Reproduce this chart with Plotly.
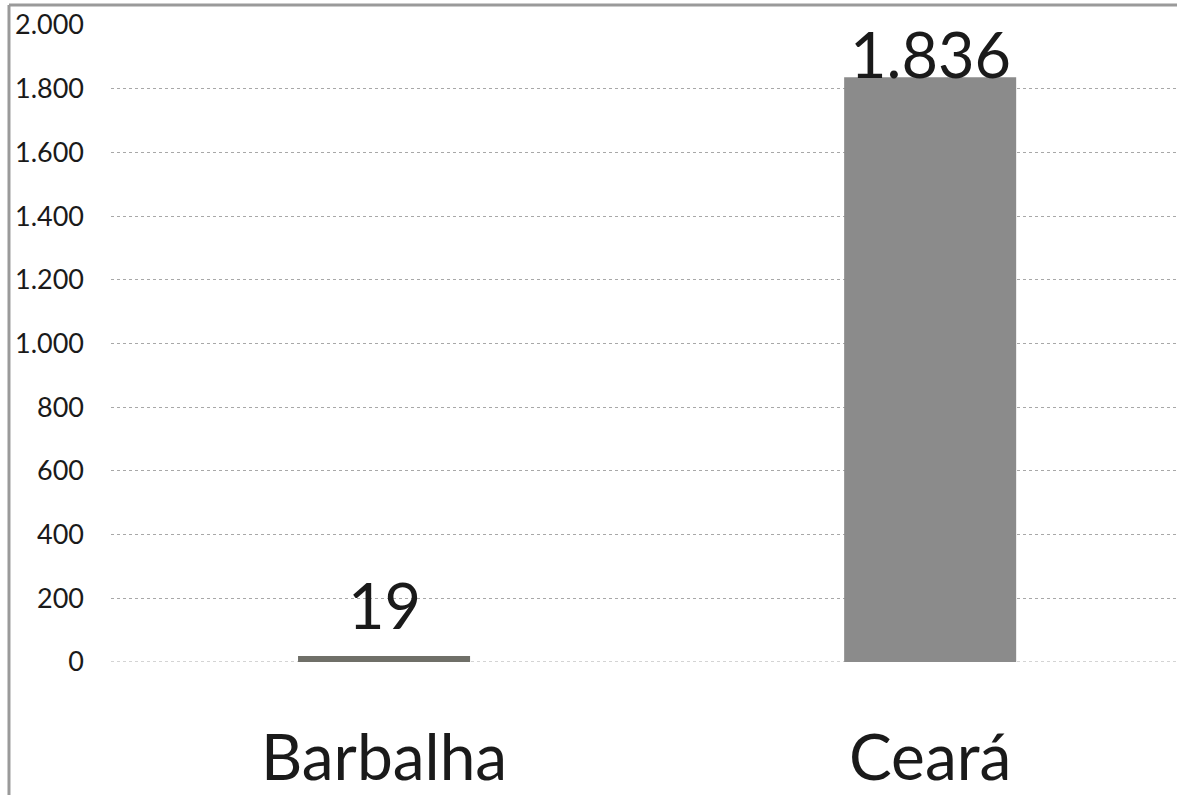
import plotly.graph_objects as go

# Data
categories = ["Barbalha", "Ceará"]
values = [19, 1836]
bar_colors = ["#6f6f68", "#8b8b8b"]
y_ticks = [0, 200, 400, 600, 800, 1000, 1200, 1400, 1600, 1800, 2000]

# Vertical offset (px) of each value label above its bar top
label_offsets = [51, 24]

FONT = "Lato"

fig = go.Figure(
    go.Bar(
        x=categories,
        y=values,
        width=0.315,
        marker=dict(color=bar_colors, line=dict(width=0)),
        cliponaxis=False,
        hoverinfo="x+y",
    )
)

# Value labels above the bars
for cat, val, off in zip(categories, values, label_offsets):
    fig.add_annotation(
        x=cat, y=val, xref="x", yref="y",
        text=f"{val:,d}".replace(",", "."),
        showarrow=False,
        yanchor="middle",
        yshift=off,
        font=dict(family=FONT, size=63, color="#1a1a1a"),
    )

fig.update_layout(
    width=1177,
    height=795,
    margin=dict(l=111, r=0, t=25, b=133),
    paper_bgcolor="white",
    plot_bgcolor="white",
    separators=",.",
    showlegend=False,
    font=dict(family=FONT, color="#1a1a1a"),
    xaxis=dict(
        range=[-0.5, 1.452],
        showgrid=False,
        showline=False,
        zeroline=False,
        ticks="",
        tickfont=dict(family=FONT, size=64, color="#1a1a1a"),
        ticklabelstandoff=53,
    ),
    yaxis=dict(
        range=[0, 2000],
        tickvals=y_ticks,
        tickformat=",d",
        showgrid=True,
        gridcolor="#a8a8a8",
        griddash="dot",
        gridwidth=1,
        zeroline=False,
        showline=False,
        ticks="",
        tickfont=dict(family=FONT, size=27, color="#1a1a1a"),
        ticklabelstandoff=26,
    ),
)

# Baseline at zero, drawn dotted like the grid
fig.add_shape(type="line", xref="paper", yref="y", x0=0, x1=1, y0=0, y1=0,
              line=dict(color="#a8a8a8", width=1, dash="dot"), layer="below")

# Outer frame on the left and top edges
fig.add_shape(type="line", xref="paper", yref="paper", x0=-0.0957, x1=-0.0957,
              y0=1.0314, y1=-0.21, line=dict(color="#9a9a9a", width=3))
fig.add_shape(type="line", xref="paper", yref="paper", x0=-0.0957, x1=1.0,
              y0=1.0314, y1=1.0314, line=dict(color="#9a9a9a", width=3))

fig.write_html("out.html")
